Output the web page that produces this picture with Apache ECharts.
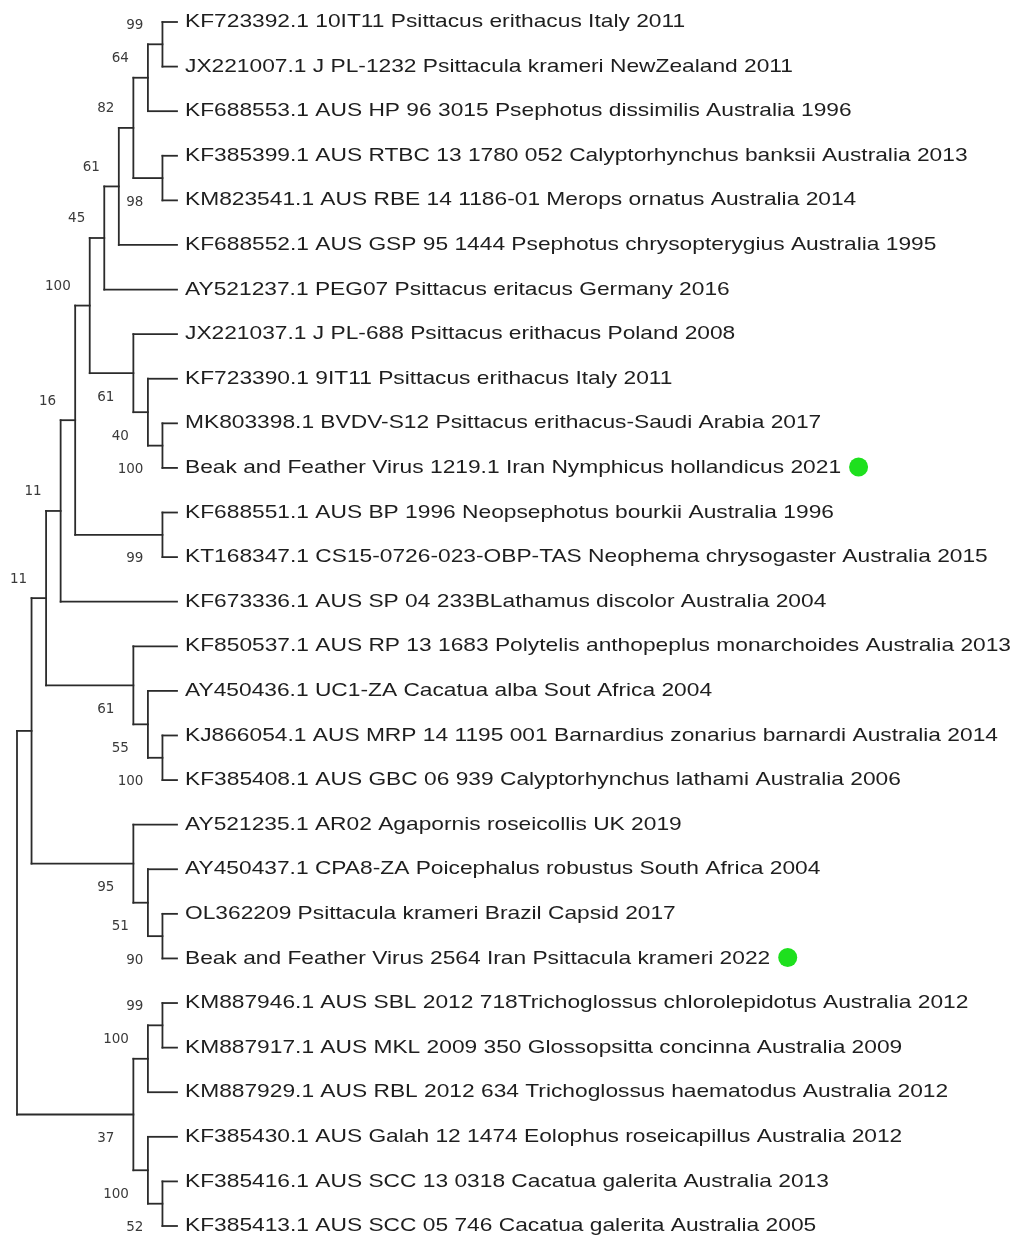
<!DOCTYPE html>
<html><head><meta charset="utf-8">
<script src="https://cdn.jsdelivr.net/npm/echarts@6/dist/echarts.min.js"></script>
<style>html,body{margin:0;padding:0;background:#fff}#c{width:1011px;height:1236px}</style>
</head><body><div id="c"></div>
<script>
// Leaf labels, top to bottom
const leafNames = [
  'KF723392.1 10IT11 Psittacus erithacus Italy 2011',
  'JX221007.1 J PL-1232 Psittacula krameri NewZealand 2011',
  'KF688553.1 AUS HP 96 3015 Psephotus dissimilis Australia 1996',
  'KF385399.1 AUS RTBC 13 1780 052 Calyptorhynchus banksii Australia 2013',
  'KM823541.1 AUS RBE 14 1186-01 Merops ornatus Australia 2014',
  'KF688552.1 AUS GSP 95 1444 Psephotus chrysopterygius Australia 1995',
  'AY521237.1 PEG07 Psittacus eritacus Germany 2016',
  'JX221037.1 J PL-688 Psittacus erithacus Poland 2008',
  'KF723390.1 9IT11 Psittacus erithacus Italy 2011',
  'MK803398.1 BVDV-S12 Psittacus erithacus-Saudi Arabia 2017',
  'Beak and Feather Virus 1219.1 Iran Nymphicus hollandicus 2021',
  'KF688551.1 AUS BP 1996 Neopsephotus bourkii Australia 1996',
  'KT168347.1 CS15-0726-023-OBP-TAS Neophema chrysogaster Australia 2015',
  'KF673336.1 AUS SP 04 233BLathamus discolor Australia 2004',
  'KF850537.1 AUS RP 13 1683 Polytelis anthopeplus monarchoides Australia 2013',
  'AY450436.1 UC1-ZA Cacatua alba Sout Africa 2004',
  'KJ866054.1 AUS MRP 14 1195 001 Barnardius zonarius barnardi Australia 2014',
  'KF385408.1 AUS GBC 06 939 Calyptorhynchus lathami Australia 2006',
  'AY521235.1 AR02 Agapornis roseicollis UK 2019',
  'AY450437.1 CPA8-ZA Poicephalus robustus South Africa 2004',
  'OL362209 Psittacula krameri Brazil Capsid 2017',
  'Beak and Feather Virus 2564 Iran Psittacula krameri 2022',
  'KM887946.1 AUS SBL 2012 718Trichoglossus chlorolepidotus Australia 2012',
  'KM887917.1 AUS MKL 2009 350 Glossopsitta concinna Australia 2009',
  'KM887929.1 AUS RBL 2012 634 Trichoglossus haematodus Australia 2012',
  'KF385430.1 AUS Galah 12 1474 Eolophus roseicapillus Australia 2012',
  'KF385416.1 AUS SCC 13 0318 Cacatua galerita Australia 2013',
  'KF385413.1 AUS SCC 05 746 Cacatua galerita Australia 2005'
];
// Leaves marked with a green dot (indexes into leafNames)
const markedLeaves = [10, 21];
// Tree topology (Newick, leaves as indexes, bootstrap support after each clade)
const newick = '(((((((((((0,1)99,2)64,(3,4)98)82,5)61,6)45,(7,(8,(9,10)100)40)61)100,(11,12)99)16,13)11,(14,(15,(16,17)100)55)61)11,(18,(19,(20,21)90)51)95),(((22,23)99,24)100,(25,(26,27)52)100)37);';

function parseNewick(s) {
  let i = 0;
  function readToken() {
    let t = '';
    while (i < s.length && !'(),;'.includes(s[i])) t += s[i++];
    return t.trim();
  }
  function node() {
    if (s[i] === '(') {
      i++;
      const children = [node()];
      while (s[i] === ',') { i++; children.push(node()); }
      i++; // ')'
      const sup = readToken();
      return { children, support: sup === '' ? null : sup };
    }
    return { leaf: parseInt(readToken(), 10) };
  }
  return node();
}
const root = parseNewick(newick);

function height(n) {
  n.h = n.children ? 1 + Math.max(...n.children.map(height)) : 0;
  return n.h;
}
const maxH = height(root);
function place(n) {
  n.x = maxH - n.h;
  if (n.children) {
    n.children.forEach(place);
    n.y = (n.children[0].y + n.children[n.children.length - 1].y) / 2;
  } else n.y = n.leaf;
}
place(root);

const segments = [];
const supports = [];
function collect(n, isFirst) {
  if (!n.children) return;
  const c = n.children;
  segments.push([n.x, c[0].y, n.x, c[c.length - 1].y]);
  c.forEach((ch, k) => {
    segments.push([n.x, ch.y, ch.x, ch.y]);
    collect(ch, k === 0);
  });
  if (n.support !== null && n.support !== undefined) supports.push([n.x, n.y, n.support, isFirst ? 1 : 0]);
}
collect(root, true);
const leaves = leafNames.map((nm, k) => [maxH, k, markedLeaves.includes(k) ? 1 : 0]);

const LEAF_FONT = '18.5px "Liberation Sans"';
const LEAF_SCALE = 1.23;
const measureCtx = document.createElement('canvas').getContext('2d');
measureCtx.font = LEAF_FONT;

const chart = echarts.init(document.getElementById('c'), null, { renderer: 'canvas' });
chart.setOption({
  animation: false,
  backgroundColor: '#ffffff',
  grid: { left: 17, top: 22, width: 160, height: 1204, containLabel: false },
  xAxis: { type: 'value', min: 0, max: maxH, show: false },
  yAxis: { type: 'value', min: 0, max: leafNames.length - 1, inverse: true, show: false },
  series: [
    {
      type: 'custom', data: segments, clip: false, silent: true,
      renderItem(params, api) {
        const a = api.coord([api.value(0), api.value(1)]);
        const b = api.coord([api.value(2), api.value(3)]);
        return { type: 'line', shape: { x1: a[0], y1: a[1], x2: b[0], y2: b[1] },
          style: { stroke: '#2b2b2b', lineWidth: 1.8, lineCap: 'square' } };
      }
    },
    {
      type: 'custom', data: supports, clip: false, silent: true,
      renderItem(params, api) {
        const p = api.coord([api.value(0), api.value(1)]);
        const up = api.value(3) === 1;
        return { type: 'text', x: p[0] - 19, y: p[1] + (up ? -19 : 24),
          style: { text: String(supports[params.dataIndex][2]), fill: '#3a3a3a',
            font: '13.5px "DejaVu Sans"', align: 'right', verticalAlign: 'middle' } };
      }
    },
    {
      type: 'custom', data: leaves, clip: false, silent: true,
      renderItem(params, api) {
        const p = api.coord([api.value(0), api.value(1)]);
        const k = params.dataIndex;
        const tx = p[0] + 8;
        const children = [{ type: 'text', x: tx, y: p[1], scaleX: LEAF_SCALE,
          style: { text: leafNames[k], fill: '#1e1e1e', font: LEAF_FONT,
            align: 'left', verticalAlign: 'middle' } }];
        if (api.value(2) === 1) {
          const w = measureCtx.measureText(leafNames[k]).width * LEAF_SCALE;
          children.push({ type: 'circle', shape: { cx: tx + w + 8 + 9.5, cy: p[1] - 1, r: 9.5 },
            style: { fill: '#1ee01e' } });
        }
        return { type: 'group', children };
      }
    }
  ]
});
</script></body></html>
